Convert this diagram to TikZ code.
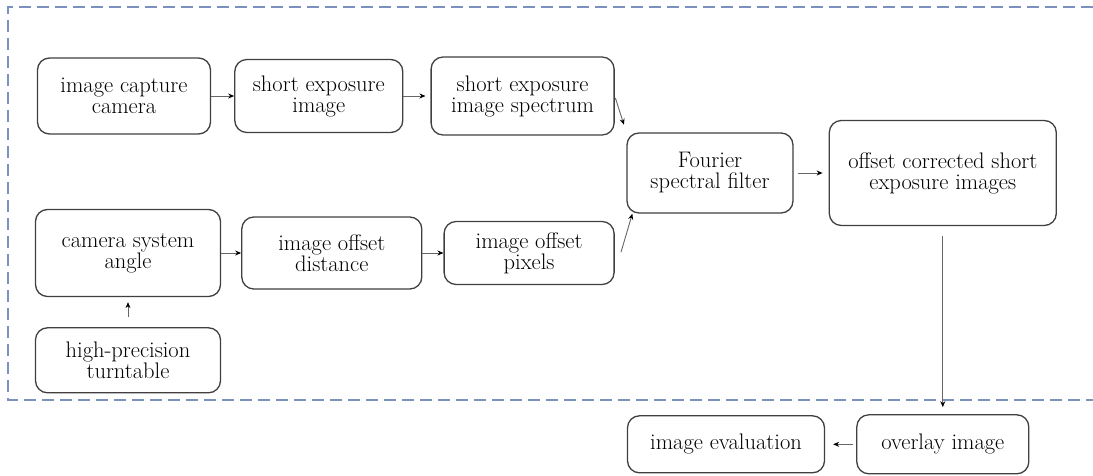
\documentclass[tikz,border=0pt]{standalone}
\usepackage{fontspec}
\usetikzlibrary{positioning, arrows.meta}
\definecolor{frameblue}{RGB}{125,145,190}
\tikzstyle{blk} = [rectangle, draw=black!75, line width=1.3pt, rounded corners=12pt, align=center, inner sep=0pt, fill=white, font=\fontsize{22.5}{21}\selectfont]
\tikzstyle{arrow} = [line width=0.9pt, ->, >={Stealth[black, length=6pt, width=5pt]}, draw=gray!80!black]
\tikzstyle{frame} = [draw=frameblue, line width=1.5pt, dash pattern=on 12pt off 6pt]

\begin{document}
\begin{tikzpicture}[x=1pt, y=1pt]
  \useasboundingbox (0,0) rectangle (1093,475);

  % Dashed frame (open on the right)
  \draw[frame] (1093,468) -- (8,468) -- (8,75) -- (1093,75);

  % Upper row
  \node (cam) [blk, minimum width=173pt, minimum height=76pt] at (124,379) {image capture\\camera};
  \node (sei) [blk, minimum width=168pt, minimum height=73pt, right=23pt of cam] {short exposure\\image};
  \node (ses) [blk, minimum width=183pt, minimum height=78pt, right=27pt of sei] {short exposure\\image spectrum};

  % Lower row
  \node (csa) [blk, minimum width=185pt, minimum height=87pt] at (128,222) {camera system\\angle};
  \node (iod) [blk, minimum width=180pt, minimum height=72pt, right=20pt of csa] {image offset\\distance};
  \node (iop) [blk, minimum width=170pt, minimum height=63pt, right=21pt of iod] {image offset\\pixels};
  \node (hpt) [blk, minimum width=185pt, minimum height=65pt, below=30pt of csa] {high-precision\\turntable};

  % Filter and result
  \node (fsf) [blk, minimum width=166pt, minimum height=80pt] at (710,302) {Fourier\\spectral filter};
  \node (oc) [blk, minimum width=227pt, minimum height=105pt, right=35pt of fsf] {offset corrected short\\exposure images};
  \node (ov) [blk, minimum width=172pt, minimum height=59pt, below=188pt of oc] {overlay image};
  \node (ie) [blk, minimum width=197pt, minimum height=57pt, left=31pt of ov] {image evaluation};

  % Arrows
  \draw[arrow] (cam) -- (sei);
  \draw[arrow, shorten >=5pt] (sei) -- (ses);
  \draw[arrow, shorten <=2pt, shorten >=8pt] (ses.east) -- (fsf.north west);
  \draw[arrow, shorten <=10pt, shorten >=5pt] (hpt) -- (csa);
  \draw[arrow] (csa) -- (iod);
  \draw[arrow] (iod) -- (iop);
  \draw[arrow, shorten <=1pt] ([xshift=6pt]iop.east) -- ([xshift=6pt]fsf.south west);
  \draw[arrow, shorten <=4pt, shorten >=6pt] (fsf) -- (oc);
  \draw[arrow, shorten <=10pt, shorten >=7pt] (oc) -- (ov);
  \draw[arrow, shorten <=3pt, shorten >=8pt] (ov) -- (ie);

\end{tikzpicture}
\end{document}
